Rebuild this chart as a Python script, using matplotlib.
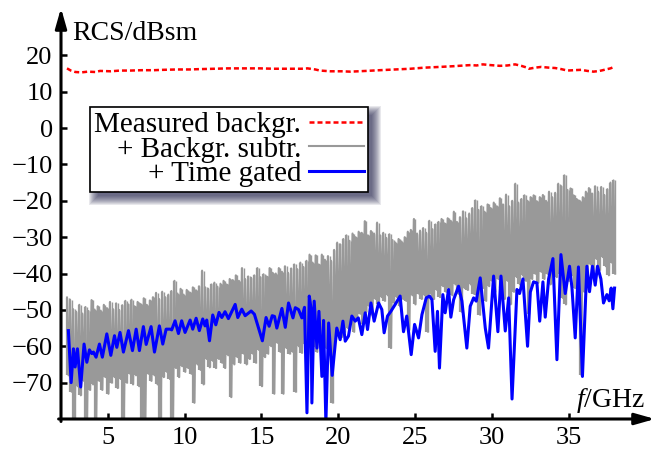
import numpy as np
import matplotlib
matplotlib.use("Agg")
import matplotlib.pyplot as plt
from matplotlib.patches import Rectangle

plt.rcParams['font.family'] = ['Liberation Serif', 'DejaVu Serif']
plt.rcParams['mathtext.fontset'] = 'custom'
plt.rcParams['mathtext.rm'] = 'Liberation Serif'
plt.rcParams['mathtext.it'] = 'Liberation Serif:italic'

# Measured background (red, dashed)
f_red = [2.35, 2.6, 2.9, 3.3, 3.7, 4.2, 4.5, 5.2, 5.8, 6.5, 7.2, 8.0, 8.6, 9.5,
         10.3, 11.0, 12.0, 12.8, 13.8, 14.9, 15.8, 16.9, 17.6, 18.0, 18.5, 18.8,
         19.5, 20.2, 20.8, 21.8, 22.7, 23.7, 24.7, 25.6, 26.6, 27.5, 28.2, 28.6,
         29.0, 29.4, 29.9, 30.5, 31.0, 31.5, 31.9, 32.2, 32.4, 32.8, 33.2, 33.7,
         34.1, 34.5, 34.9, 35.3, 35.8, 36.2, 36.6, 37.0, 37.4, 37.7, 38.0]
rcs_red = [16.4, 15.8, 15.4, 15.3, 15.5, 15.4, 15.7, 15.6, 15.8, 15.8, 15.9, 15.9,
           16.0, 16.1, 16.1, 16.2, 16.3, 16.4, 16.4, 16.4, 16.3, 16.3, 16.3, 16.4,
           16.1, 15.8, 15.6, 15.6, 15.5, 15.7, 15.9, 16.1, 16.3, 16.6, 16.8, 17.0,
           17.2, 17.3, 17.2, 17.5, 17.3, 17.1, 17.2, 17.5, 17.1, 16.7, 16.3, 16.6,
           16.8, 16.6, 16.5, 16.2, 15.8, 15.9, 16.0, 15.7, 15.5, 15.7, 16.1, 16.4, 16.9]

# Background subtracted (grey): alternating peaks / troughs of the noisy trace
f_grey = np.linspace(2.35, 37.9, 179)
grey_hi = [
    -46.6, -47.2, -49.8, -50.5, -48.6, -51.0, -49.2, -50.3, -47.3, -49.9,
    -49.0, -50.2, -48.6, -49.5, -47.8, -49.8, -48.2, -50.0, -48.7, -47.5,
    -48.5, -47.2, -49.0, -47.8, -48.4, -46.8, -48.6, -47.4, -46.5, -45.3,
    -47.0, -45.0, -46.5, -45.8, -44.8, -42.0, -45.5, -44.2, -45.8, -44.5,
    -45.2, -43.8, -44.6, -43.5, -39.2, -43.8, -44.2, -43.0, -42.5, -43.6,
    -42.8, -42.0, -43.0, -41.5, -41.8, -40.5, -42.0, -38.5, -41.5, -40.8,
    -41.2, -40.5, -38.5, -41.0, -40.2, -40.8, -38.5, -39.8, -40.0, -38.5,
    -39.5, -38.0, -39.8, -38.6, -37.5, -38.8, -37.0, -38.2, -36.5, -34.8,
    -37.0, -35.0, -37.5, -34.8, -36.2, -35.2, -36.5, -33.5, -31.5, -32.0,
    -30.5, -29.5, -31.0, -29.0, -30.0, -28.5, -28.8, -25.6, -29.5, -28.3,
    -29.0, -26.0, -29.5, -28.8, -30.2, -29.2, -30.8, -31.5, -30.5, -31.2,
    -30.0, -28.5, -28.0, -25.0, -29.0, -28.2, -27.5, -28.8, -25.5, -27.8,
    -26.5, -25.8, -25.0, -26.2, -24.8, -25.5, -23.0, -25.8, -24.5, -22.9,
    -24.8, -23.5, -22.0, -19.9, -22.5, -21.5, -23.0, -21.0, -22.0, -20.5,
    -21.5, -19.3, -21.0, -18.3, -21.5, -20.0, -15.3, -20.5, -19.5, -18.5,
    -20.0, -19.0, -18.5, -20.1, -19.0, -18.4, -20.0, -17.5, -19.0, -17.8,
    -15.3, -16.0, -13.0, -17.0, -16.6, -18.5, -19.5, -20.0, -19.0, -17.5,
    -16.5, -18.0, -16.0, -17.5, -16.2, -18.4, -16.8, -15.0, -14.4]
grey_lo = [
    -68.0, -72.5, -80.5, -71.0, -73.5, -69.5, -80.5, -72.0, -70.5, -80.5,
    -69.5, -72.0, -68.5, -73.0, -70.0, -68.5, -71.5, -69.0, -80.5, -70.0,
    -67.5, -70.5, -68.0, -71.0, -80.5, -80.5, -67.5, -69.5, -68.0, -70.5,
    -80.5, -68.5, -67.0, -69.0, -80.5, -66.0, -68.5, -65.5, -67.0, -66.0,
    -67.5, -75.5, -65.0, -66.5, -70.5, -63.5, -65.8, -64.0, -66.0, -63.5,
    -64.5, -66.0, -62.5, -74.0, -65.0, -63.0, -64.5, -62.0, -65.0, -63.5,
    -62.0, -64.5, -61.0, -71.0, -63.0, -62.0, -60.0, -73.0, -59.0, -61.5,
    -73.0, -60.5, -62.0, -61.5, -72.5, -60.0, -61.8, -59.5, -62.0, -60.5,
    -60.0, -61.5, -58.5, -62.0, -60.5, -59.0, -75.5, -58.0, -56.5, -57.5,
    -56.0, -55.0, -53.5, -56.0, -52.5, -51.0, -54.0, -50.5, -49.0, -51.5,
    -47.0, -48.5, -46.5, -47.5, -46.0, -60.5, -48.0, -46.5, -49.0, -47.0,
    -47.5, -55.5, -46.0, -48.5, -45.5, -47.0, -46.0, -56.0, -45.5, -47.0,
    -44.5, -46.5, -43.5, -45.0, -44.0, -46.0, -43.0, -45.5, -50.5, -44.0,
    -44.5, -43.0, -45.5, -46.0, -51.3, -44.0, -47.5, -43.5, -42.0, -45.0,
    -41.5, -44.0, -47.0, -42.0, -48.5, -45.0, -41.0, -43.0, -40.5, -42.0,
    -51.0, -41.5, -40.0, -42.5, -39.5, -41.5, -40.0, -43.0, -39.0, -41.0,
    -40.0, -46.7, -48.5, -42.0, -40.5, -44.0, -44.0, -67.8, -45.0, -41.0,
    -37.5, -40.0, -36.0, -39.0, -35.5, -38.0, -40.5, -37.0, -40.0]

# Time gated (blue)
f_blue = [2.44, 2.62, 2.77, 2.88, 3.03, 3.24, 3.46, 3.64, 3.81, 3.96, 4.07, 4.24,
          4.46, 4.65, 4.94, 5.2, 5.44, 5.59, 5.8, 6.02, 6.35, 6.61, 6.85, 7.06,
          7.32, 7.5, 7.82, 8.04, 8.36, 8.58, 8.8, 9.06, 9.16, 9.38, 9.6, 9.81,
          10.03, 10.36, 10.53, 10.75, 10.96, 11.18, 11.33, 11.44, 11.62, 11.83,
          12.03, 12.24, 12.42, 12.63, 12.85, 13.29, 13.46, 13.72, 13.94, 14.33,
          14.54, 15.06, 15.3, 15.5, 15.7, 15.85, 16.0, 16.33, 16.55, 16.76, 16.92,
          17.05, 17.2, 17.41, 17.63, 17.8, 17.96, 18.11, 18.22, 18.28, 18.43,
          18.61, 18.74, 18.93, 19.04, 19.19, 19.37, 19.6, 19.9, 20.12, 20.3,
          20.45, 20.66, 20.88, 21.1, 21.3, 21.53, 21.75, 21.9, 22.12, 22.33,
          22.62, 22.83, 22.98, 23.2, 23.42, 23.7, 24.02, 24.24, 24.45, 24.74,
          24.96, 25.22, 25.44, 25.72, 25.93, 26.09, 26.3, 26.45, 26.58, 26.8,
          26.95, 27.17, 27.32, 27.5, 27.82, 28.04, 28.36, 28.58, 28.8, 28.97,
          29.23, 29.56, 29.77, 30.1, 30.38, 30.58, 30.86, 31.08, 31.3, 31.62,
          31.79, 32.01, 32.31, 32.49, 32.7, 32.92, 33.1, 33.31, 33.46, 33.68,
          33.96, 34.22, 34.48, 34.76, 35.04, 35.2, 35.41, 35.62, 35.88, 36.17,
          36.34, 36.53, 36.71, 36.86, 37.08, 37.25, 37.47, 37.62, 37.75, 37.86,
          37.97]
rcs_blue = [-55.7, -70.0, -60.7, -65.7, -60.7, -71.2, -59.4, -64.4, -61.0, -62.0,
            -61.6, -63.0, -59.4, -63.0, -56.6, -62.5, -57.1, -60.3, -56.2, -61.6,
            -55.7, -61.2, -55.3, -61.2, -54.6, -59.5, -54.6, -61.6, -54.4, -59.4,
            -55.3, -55.3, -55.5, -53.0, -56.5, -53.0, -56.2, -52.8, -55.3, -52.3,
            -55.7, -52.5, -54.4, -52.8, -58.5, -51.4, -54.1, -50.7, -52.1, -50.5,
            -52.4, -48.5, -52.1, -49.8, -51.6, -50.3, -51.2, -58.5, -52.1, -54.5,
            -51.6, -51.8, -55.0, -49.6, -54.8, -48.1, -50.4, -52.2, -49.4, -49.9,
            -52.2, -49.3, -78.3, -46.2, -49.4, -75.6, -47.6, -60.5, -50.4, -68.3,
            -52.9, -81.0, -53.6, -68.0, -55.0, -58.2, -53.1, -58.6, -57.2, -51.7,
            -53.1, -52.2, -56.8, -50.8, -55.4, -48.1, -53.1, -48.1, -49.9, -56.3,
            -51.7, -50.4, -48.5, -46.2, -56.0, -51.7, -62.3, -54.0, -57.7, -51.3,
            -46.7, -46.2, -47.2, -61.4, -50.4, -66.0, -45.8, -50.8, -44.4, -52.0,
            -47.2, -43.5, -47.6, -60.5, -49.0, -46.7, -47.6, -41.2, -55.0, -60.5,
            -40.7, -56.0, -40.7, -55.8, -46.7, -74.5, -44.4, -45.5, -41.5, -60.0,
            -45.1, -42.3, -42.6, -53.1, -42.3, -52.0, -41.5, -35.9, -63.7, -34.8,
            -45.5, -38.0, -44.0, -57.7, -38.2, -68.3, -38.0, -45.0, -38.0, -43.2,
            -38.0, -41.5, -48.1, -45.8, -47.5, -44.0, -49.7, -44.0]

fig = plt.figure(figsize=(6.62, 4.51), dpi=100)
ax = fig.add_axes([61 / 662, 32 / 451, 594 / 662, 411 / 451])

grey = '#999999'
xg = np.column_stack([f_grey, f_grey + 0.1]).ravel()
yg = np.column_stack([grey_hi, grey_lo]).ravel()
l_grey, = ax.plot(xg, yg, color=grey, lw=1.5, zorder=2)
ax.vlines(f_grey, grey_lo, grey_hi, colors=grey, lw=1.6, zorder=2)
ax.vlines(f_grey + 0.1, grey_lo, grey_hi, colors=grey, lw=1.0, zorder=2)
l_blue, = ax.plot(f_blue, rcs_blue, color='#0000ff', lw=2.2, zorder=3)
l_red, = ax.plot(f_red, rcs_red, color='#ff0000', lw=1.8, dashes=(2.0, 1.2), zorder=3)

ax.set_xlim(1.96, 40.6)
ax.set_ylim(-80, 33)
ax.set_xticks([5, 10, 15, 20, 25, 30, 35])
ax.set_yticks([-70, -60, -50, -40, -30, -20, -10, 0, 10, 20])
ax.tick_params(direction='in', length=4, width=1.8, labelsize=19, pad=6)
for s in ax.spines.values():
    s.set_visible(False)

# axis lines with arrow heads
arrow = dict(arrowstyle='-|>,head_length=0.6,head_width=0.17', lw=2.2, color='k',
             shrinkA=0, shrinkB=0, mutation_scale=20)
ax.annotate('', xy=(1, 0), xytext=(-0.004, 0), xycoords='axes fraction',
            arrowprops=arrow, annotation_clip=False)
ax.annotate('', xy=(0, 1), xytext=(0, -0.006), xycoords='axes fraction',
            arrowprops=arrow, annotation_clip=False)

ax.text(0.0185, 0.922, 'RCS/dBsm', transform=ax.transAxes, fontsize=20,
        ha='left', va='baseline')
ax.text(0.983, 0.029, '$f$/GHz', transform=ax.transAxes, fontsize=20,
        ha='right', va='baseline')

leg = ax.legend([l_red, l_grey, l_blue],
                ['Measured backgr.', '+ Backgr. subtr.', '+ Time gated'],
                loc='upper left', bbox_to_anchor=(0.0488, 0.759), borderaxespad=0,
                markerfirst=False, fontsize=21, fancybox=False, edgecolor='k',
                framealpha=1, handlelength=1.9, handletextpad=0.25,
                labelspacing=-0.06, borderpad=0.15)
leg.get_frame().set_linewidth(1.2)
leg.set_zorder(6)

# soft shadow behind the legend
fig.canvas.draw()
bb = leg.get_window_extent()
inv = ax.transAxes.inverted()
for k in range(10):
    grow = k - 2
    x0, y0 = inv.transform((bb.x0 + 6 - grow, bb.y0 - 6 - grow))
    x1, y1 = inv.transform((bb.x1 + 6 + grow, bb.y1 - 6 + grow))
    ax.add_patch(Rectangle((x0, y0), x1 - x0, y1 - y0, transform=ax.transAxes,
                           facecolor='#25254d', edgecolor='none', alpha=0.1,
                           zorder=5, clip_on=False))

fig.savefig('out.png', dpi=100)
